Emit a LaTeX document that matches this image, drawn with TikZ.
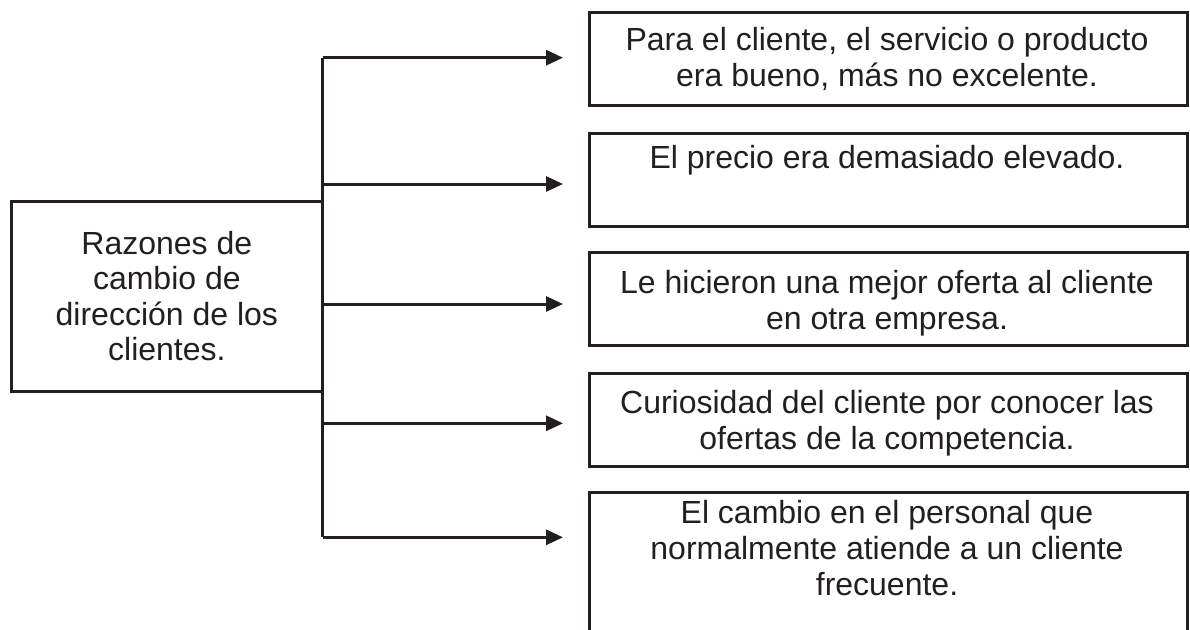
\documentclass[tikz,border=0pt]{standalone}
\usepackage{fontspec}
\setmainfont{Liberation Sans}
\usetikzlibrary{arrows.meta}

\definecolor{tinta}{HTML}{231F20}

\tikzset{
    caja/.style={draw=tinta, line width=3pt, minimum width=598pt, minimum height=93pt, anchor=north west, inner sep=0pt},
    texto/.style={anchor=north, align=center, inner sep=0pt, text=tinta, font=\fontsize{32}{36}\selectfont},
    flecha/.style={draw=tinta, line width=3pt, -{Triangle[length=17pt,width=15pt]}},
}

\begin{document}
\begin{tikzpicture}[x=1pt,y=-1pt]
    \clip (0,0) rectangle (1190,629);
    \fill[white] (0,0) rectangle (1190,629);

    \node[draw=tinta, line width=3pt, minimum width=311.7pt, minimum height=189.5pt, inner sep=0pt,
          align=center, text=tinta, font=\fontsize{32}{35.5}\selectfont] (razones) at (166.85,296.25)
          {Razones de\\cambio de\\dirección de los\\clientes.};

    \node[caja] (r1) at (588,10.5) {};
    \node[caja] (r2) at (588,131.5) {};
    \node[caja] (r3) at (588,250.5) {};
    \node[caja] (r4) at (588,371.5) {};
    \node[caja, minimum height=160pt] (r5) at (588,490.5) {};

    \node[texto] (t1) at (887,27) {Para el cliente, el servicio o producto\\era bueno, más no excelente.};
    \node[texto] (t2) at (887,145) {El precio era demasiado elevado.};
    \node[texto] (t3) at (887,270) {Le hicieron una mejor oferta al cliente\\en otra empresa.};
    \node[texto] (t4) at (887,390) {Curiosidad del cliente por conocer las\\ofertas de la competencia.};
    \node[texto] (t5) at (887,500) {El cambio en el personal que\\normalmente atiende a un cliente\\frecuente.};

    \coordinate (j1) at (322.7,57.7);
    \coordinate (j2) at (322.7,184);
    \coordinate (j3) at (322.7,304);
    \coordinate (j4) at (322.7,423.3);
    \coordinate (j5) at (322.7,537.3);

    \draw[tinta, line width=3pt] (j1) -- (j5);
    \foreach \i in {1,...,5}
        \draw[flecha] (j\i) -- ([xshift=-25pt]j\i -| r\i.west);
\end{tikzpicture}
\end{document}
